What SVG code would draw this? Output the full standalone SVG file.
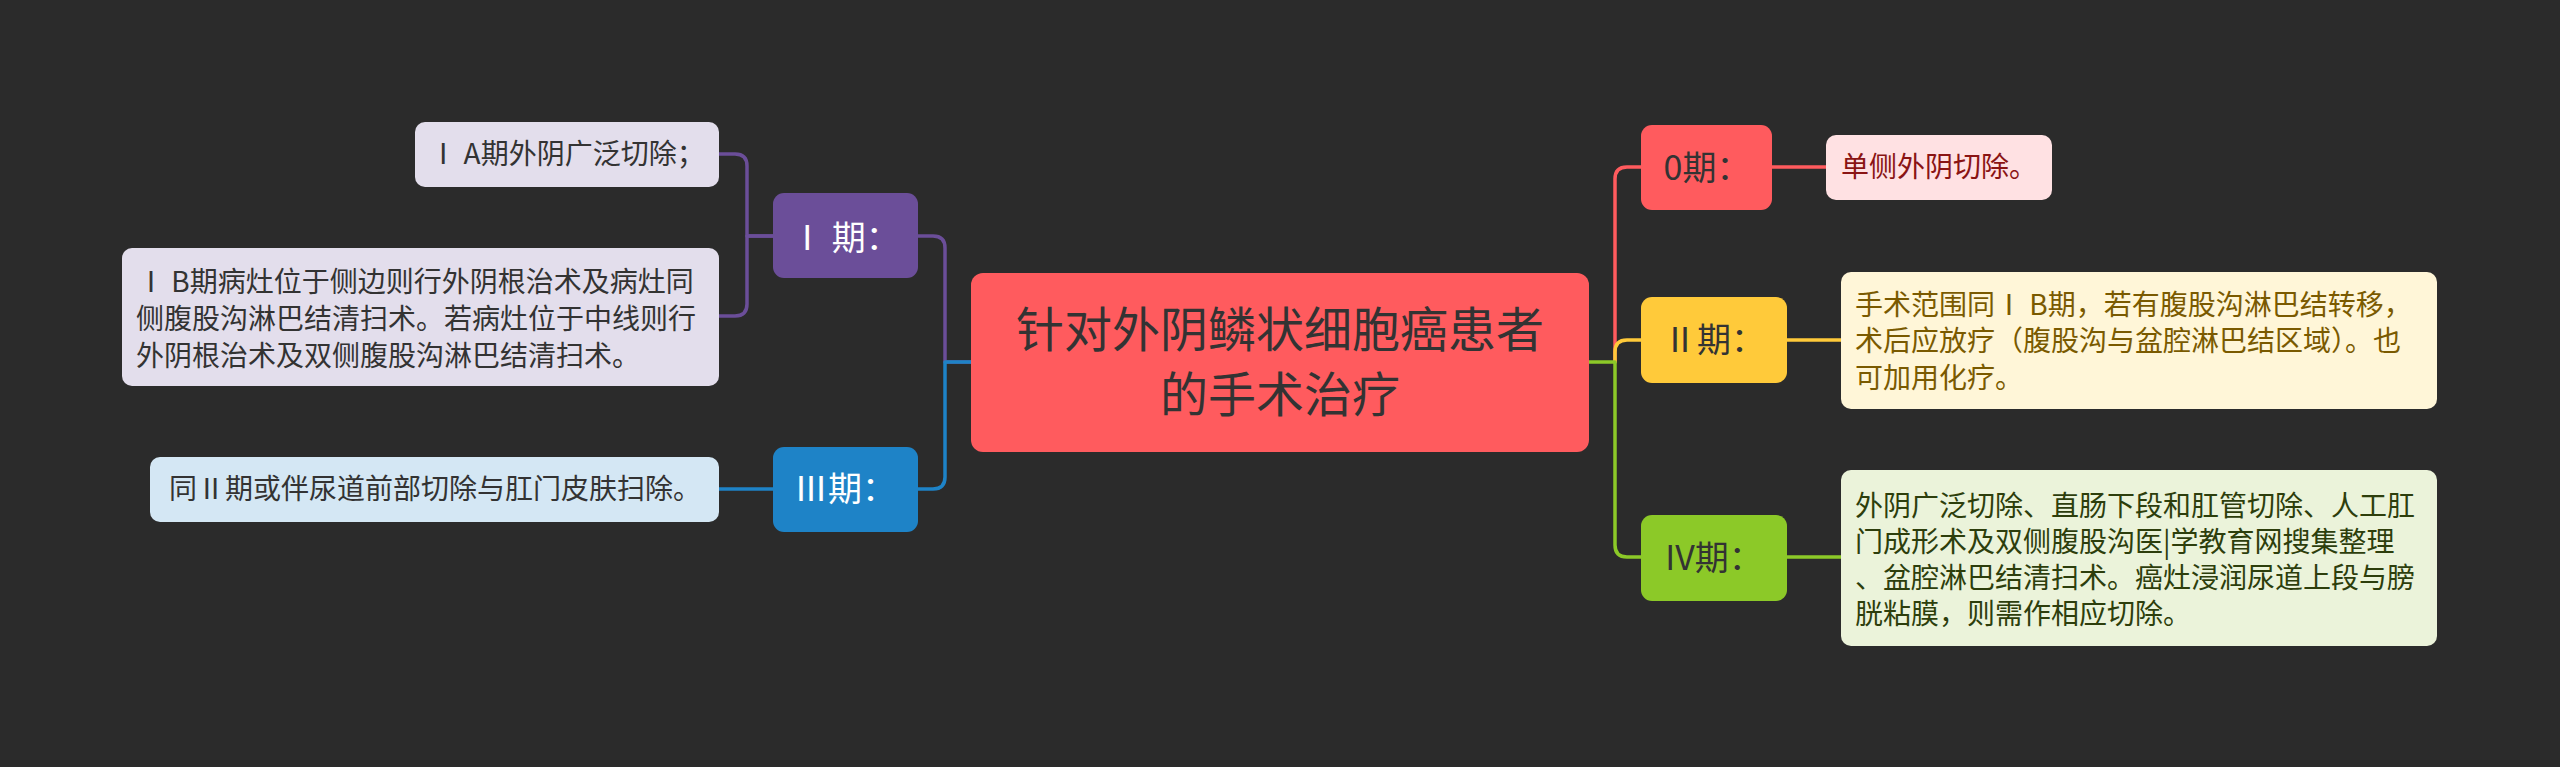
<svg xmlns="http://www.w3.org/2000/svg" width="2560" height="767" viewBox="0 0 2560 767">
<style>
text{font-family:"Noto Sans CJK SC","Noto Sans",sans-serif;}
.c{fill:none;stroke-width:3.5;stroke-linecap:round;stroke-linejoin:round;}
.t28{font-size:28px;}
.t34{font-size:34px;}
.mid{text-anchor:middle;}
</style>
<rect x="0" y="0" width="2560" height="767" fill="#2b2b2b"/>
<g id="connectors">
<path class="c" stroke="#6b4e99" d="M971,362 H945 V248 Q945,236 933,236 H918"/>
<path class="c" stroke="#1e83c7" d="M971,362 H945 V477 Q945,489 933,489 H918"/>
<path class="c" stroke="#6b4e99" d="M773,236 H747 V166 Q747,154 735,154 H719"/>
<path class="c" stroke="#6b4e99" d="M773,236 H747 V304 Q747,316 735,316 H719"/>
<path class="c" stroke="#1e83c7" d="M773,489 H719"/>
<path class="c" stroke="#ff5b5e" d="M1615,362 V179 Q1615,167 1627,167 H1641"/>
<path class="c" stroke="#ffca3a" d="M1615,362 V352 Q1615,340 1627,340 H1641"/>
<path class="c" stroke="#8cc928" d="M1589,362 H1615 V545 Q1615,557 1627,557 H1641"/>
<path class="c" stroke="#ff5b5e" d="M1772,167 H1826"/>
<path class="c" stroke="#ffca3a" d="M1787,340 H1841"/>
<path class="c" stroke="#8cc928" d="M1787,557 H1841"/>
</g>
<g id="root">
<rect x="971" y="273" width="618" height="179" rx="12" fill="#ff5b5e"/>
<text class="mid" x="1280" y="347" font-size="48" fill="#333333">针对外阴鳞状细胞癌患者</text>
<text class="mid" x="1280" y="412" font-size="48" fill="#333333">的手术治疗</text>
</g>
<g id="stage1">
<rect x="773" y="193" width="145" height="85" rx="11" fill="#6b4e99"/>
<text class="t34 mid" x="845" y="250" fill="#ffffff">Ⅰ 期：</text>
</g>
<g id="stage1a">
<rect x="415" y="122" width="304" height="65" rx="10" fill="#e3deec"/>
<text class="t28 mid" x="567" y="164" fill="#333333">Ⅰ A期外阴广泛切除；</text>
</g>
<g id="stage1b">
<rect x="122" y="248" width="597" height="138" rx="10" fill="#e3deec"/>
<text class="t28" x="137" y="292" fill="#333333">Ⅰ B期病灶位于侧边则行外阴根治术及病灶同</text>
<text class="t28" x="136" y="329" fill="#333333">侧腹股沟淋巴结清扫术。若病灶位于中线则行</text>
<text class="t28" x="136" y="366" fill="#333333">外阴根治术及双侧腹股沟淋巴结清扫术。</text>
</g>
<g id="stage3">
<rect x="773" y="447" width="145" height="85" rx="11" fill="#1e83c7"/>
<text class="t34 mid" x="845" y="501" fill="#ffffff">Ⅲ期：</text>
</g>
<g id="stage3-detail">
<rect x="150" y="457" width="569" height="65" rx="10" fill="#d4e7f4"/>
<text class="t28 mid" x="435" y="499" fill="#333333">同Ⅱ期或伴尿道前部切除与肛门皮肤扫除。</text>
</g>
<g id="stage0">
<rect x="1641" y="125" width="131" height="85" rx="11" fill="#ff5b5e"/>
<text class="t34 mid" x="1707" y="180" fill="#333333">0期：</text>
</g>
<g id="stage0-detail">
<rect x="1826" y="135" width="226" height="65" rx="10" fill="#ffe1e3"/>
<text class="t28" x="1841" y="177" fill="#8a1414">单侧外阴切除。</text>
</g>
<g id="stage2">
<rect x="1641" y="297" width="146" height="86" rx="11" fill="#ffca3a"/>
<text class="t34 mid" x="1714" y="352" fill="#333333">Ⅱ期：</text>
</g>
<g id="stage2-detail">
<rect x="1841" y="272" width="596" height="137" rx="10" fill="#fff6d8"/>
<text class="t28" x="1855" y="315" fill="#7a5a00">手术范围同Ⅰ B期，若有腹股沟淋巴结转移，</text>
<text class="t28" x="1855" y="351" fill="#7a5a00">术后应放疗（腹股沟与盆腔淋巴结区域）。也</text>
<text class="t28" x="1855" y="388" fill="#7a5a00">可加用化疗。</text>
</g>
<g id="stage4">
<rect x="1641" y="515" width="146" height="86" rx="11" fill="#8cc928"/>
<text class="t34 mid" x="1714" y="570" fill="#333333">IV期：</text>
</g>
<g id="stage4-detail">
<rect x="1841" y="470" width="596" height="176" rx="10" fill="#ebf3da"/>
<text class="t28" x="1855" y="516" fill="#2d3e0c">外阴广泛切除、直肠下段和肛管切除、人工肛</text>
<text class="t28" x="1855" y="552" fill="#2d3e0c">门成形术及双侧腹股沟医|学教育网搜集整理</text>
<text class="t28" x="1855" y="588" fill="#2d3e0c">、盆腔淋巴结清扫术。癌灶浸润尿道上段与膀</text>
<text class="t28" x="1855" y="624" fill="#2d3e0c">胱粘膜，则需作相应切除。</text>
</g>
</svg>
